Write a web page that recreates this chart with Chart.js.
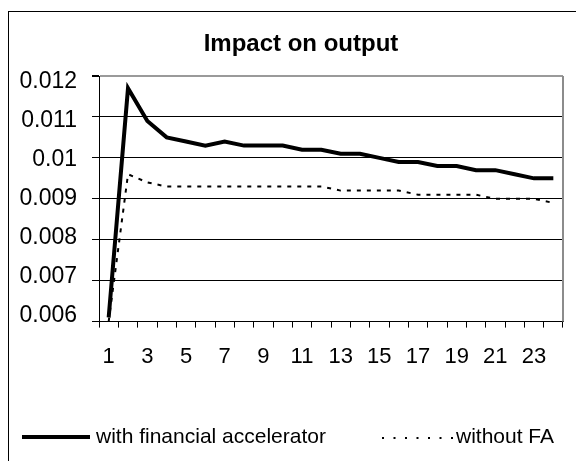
<!DOCTYPE html>
<html>
<head>
<meta charset="utf-8">
<script src="https://cdn.jsdelivr.net/npm/chart.js@4.4.1/dist/chart.umd.min.js"></script>
<style>
  body { margin: 0; background: #fff; }
  #wrap { width: 576px; height: 461px; }
</style>
</head>
<body>
<div id="wrap"><canvas id="chart" width="576" height="461"></canvas></div>
<script>
// data
const periods = ['1','2','3','4','5','6','7','8','9','10','11','12','13','14','15','16','17','18','19','20','21','22','23','24'];
const withFA = [0.0061, 0.0117, 0.0109, 0.0105, 0.0104, 0.0103, 0.0104, 0.0103, 0.0103, 0.0103, 0.0102, 0.0102,
                0.0101, 0.0101, 0.0100, 0.0099, 0.0099, 0.0098, 0.0098, 0.0097, 0.0097, 0.0096, 0.0095, 0.0095];
const withoutFA = [0.0060, 0.0096, 0.0094, 0.0093, 0.0093, 0.0093, 0.0093, 0.0093, 0.0093, 0.0093, 0.0093, 0.0093,
                   0.0092, 0.0092, 0.0092, 0.0092, 0.0091, 0.0091, 0.0091, 0.0091, 0.0090, 0.0090, 0.0090, 0.0089];
const yTicks = [0.012, 0.011, 0.01, 0.009, 0.008, 0.007, 0.006];
const seriesNames = ['with financial accelerator', 'without FA'];
const chartTitle = 'Impact on output';

const FONT = '"Liberation Sans", Arial, sans-serif';
Chart.defaults.font.family = FONT;
Chart.defaults.color = '#000';

// frame, title, plot border and the legend (excel style)
const excelBits = {
  id: 'excelBits',
  beforeDraw(chart) {
    const ctx = chart.ctx;
    ctx.save();
    ctx.fillStyle = '#fff';
    ctx.fillRect(0, 0, chart.width, chart.height);
    ctx.restore();
  },
  afterDraw(chart) {
    const ctx = chart.ctx;
    const a = chart.chartArea;
    ctx.save();
    // outer frame, runs off the right and bottom edges
    ctx.strokeStyle = '#000';
    ctx.lineWidth = 1;
    ctx.strokeRect(8.5, 11.5, chart.width + 20, chart.height + 20);
    // grey plot border right side
    ctx.strokeStyle = '#8c8c8c';
    ctx.lineWidth = 2;
    ctx.beginPath();
    ctx.moveTo(a.right, a.top);
    ctx.lineTo(a.right, a.bottom);
    ctx.stroke();

    // title, centred on the whole chart frame not the plot
    ctx.fillStyle = '#000';
    ctx.font = 'bold 24px ' + FONT;
    ctx.textAlign = 'center';
    ctx.textBaseline = 'alphabetic';
    ctx.fillText(chartTitle, 301, 51);

    // legend
    const ly = 437;
    ctx.font = '21px ' + FONT;
    ctx.textBaseline = 'middle';
    ctx.textAlign = 'left';
    ctx.strokeStyle = '#000';
    ctx.lineWidth = 4;
    ctx.beginPath();
    ctx.moveTo(22, ly);
    ctx.lineTo(90, ly);
    ctx.stroke();
    ctx.fillText(chart.data.datasets[0].label, 96, ly);
    ctx.lineWidth = 2;
    ctx.setLineDash([2, 9.5]);
    ctx.beginPath();
    ctx.moveTo(382, ly + 1);
    ctx.lineTo(454, ly + 1);
    ctx.stroke();
    ctx.setLineDash([]);
    ctx.fillText(chart.data.datasets[1].label, 456, ly);
    ctx.restore();
  }
};

new Chart(document.getElementById('chart'), {
  type: 'line',
  data: {
    labels: periods,
    datasets: [
      {
        label: seriesNames[0],
        data: withFA,
        borderColor: '#000',
        borderWidth: 4,
        pointRadius: 0,
        tension: 0
      },
      {
        label: seriesNames[1],
        data: withoutFA,
        borderColor: '#000',
        borderWidth: 2,
        borderDash: [4, 6],
        pointRadius: 0,
        tension: 0
      }
    ]
  },
  options: {
    responsive: false,
    animation: false,
    layout: { padding: { left: 12, right: 13, top: 76, bottom: 75 } },
    plugins: {
      legend: { display: false },
      tooltip: { enabled: false },
      title: { display: false }
    },
    scales: {
      x: {
        type: 'category',
        offset: true,
        grid: { offset: true, drawOnChartArea: false, tickLength: 6, color: '#000' },
        border: { color: '#000', width: 1 },
        ticks: {
          autoSkip: false,
          maxRotation: 0,
          padding: 16,
          font: { size: 22 },
          callback: function (value, index) {
            return index % 2 === 0 ? this.getLabelForValue(value) : '';
          }
        }
      },
      y: {
        position: 'left',
        weight: 0,
        min: 0.006,
        max: 0.012,
        ticks: { stepSize: 0.001, display: false },
        grid: {
          tickLength: 7,
          tickColor: '#000',
          color: (c) => c.index === c.scale.ticks.length - 1 ? '#9a9a9a' : '#000',
          lineWidth: (c) => c.index === c.scale.ticks.length - 1 ? 2 : 1
        },
        border: { color: '#000', width: 1 },
        afterFit: (s) => { s.width = 7; }
      },
      // label axis: excel spaces the labels a bit tighter than the gridlines
      yl: {
        type: 'linear',
        position: 'left',
        weight: 1,
        min: 0.0058484,
        max: 0.0121444,
        grid: { display: false, drawTicks: false },
        border: { display: false },
        afterBuildTicks: (s) => { s.ticks = yTicks.map(v => ({ value: v })); },
        afterFit: (s) => { s.width = 80; },
        ticks: {
          padding: 15,
          font: { size: 23 },
          callback: (v) => String(+v.toFixed(4))
        }
      }
    }
  },
  plugins: [excelBits]
});
</script>
</body>
</html>
